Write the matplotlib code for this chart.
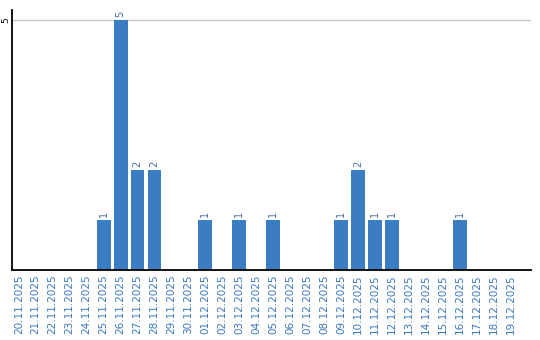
import matplotlib
matplotlib.use('Agg')
import matplotlib.pyplot as plt

dates = ['20.11.2025', '21.11.2025', '22.11.2025', '23.11.2025', '24.11.2025',
         '25.11.2025', '26.11.2025', '27.11.2025', '28.11.2025', '29.11.2025',
         '30.11.2025', '01.12.2025', '02.12.2025', '03.12.2025', '04.12.2025',
         '05.12.2025', '06.12.2025', '07.12.2025', '08.12.2025', '09.12.2025',
         '10.12.2025', '11.12.2025', '12.12.2025', '13.12.2025', '14.12.2025',
         '15.12.2025', '16.12.2025', '17.12.2025', '18.12.2025', '19.12.2025']
counts = [0, 0, 0, 0, 0, 1, 5, 2, 2, 0,
          0, 1, 0, 1, 0, 1, 0, 0, 0, 1,
          2, 1, 1, 0, 0, 0, 1, 0, 0, 0]

bar_col = '#3b7dc3'
lab_col = '#3a78c0'

fig = plt.figure(figsize=(5.4, 3.4), dpi=100)
ax = fig.add_axes([12/540, 70/340, 519/540, 260/340])
x = list(range(len(dates)))
ax.bar(x, counts, width=0.82, color=bar_col, zorder=2)
for xi, c in zip(x, counts):
    if c > 0:
        ax.text(xi, c + 0.06, str(c), rotation=90, ha='center', va='bottom',
                fontsize=7, color='#4a6e9e')

ax.set_xlim(-0.4, 30.2)
ax.set_ylim(0, 5.2)
ax.set_xticks(x)
ax.set_xticklabels(dates, rotation=90, fontsize=7.5, color=lab_col)
ax.set_yticks([5])
ax.set_yticklabels(['5'], rotation=90, fontsize=6.5, va='center')
ax.tick_params(length=0, pad=3)
ax.tick_params(axis='y', pad=1)
ax.yaxis.grid(True, color='#c8c8c8', lw=1, zorder=0)
ax.spines['top'].set_visible(False)
ax.spines['right'].set_visible(False)
ax.spines['left'].set_linewidth(1.3)
ax.spines['bottom'].set_linewidth(1.3)

fig.savefig('out.png', dpi=100)
